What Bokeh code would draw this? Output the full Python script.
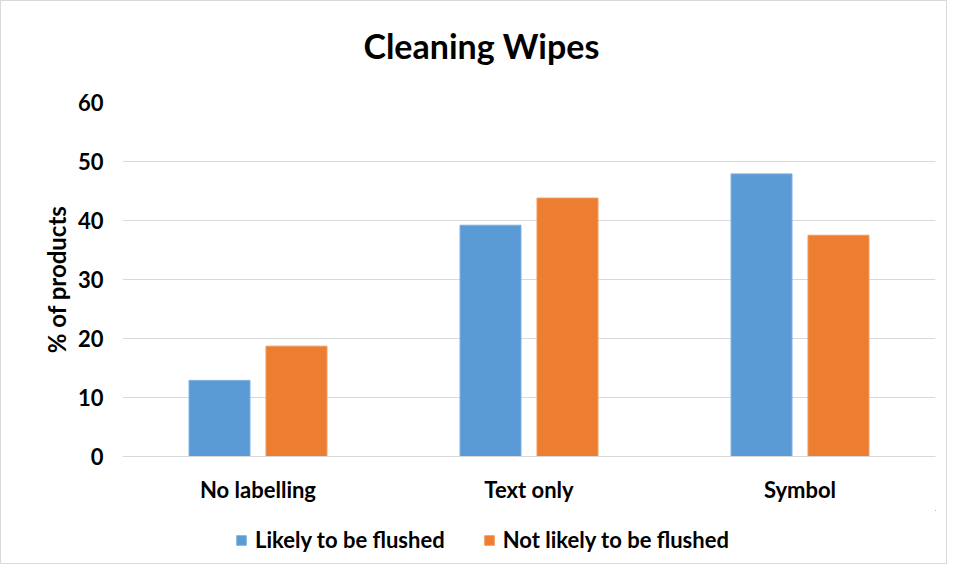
from bokeh.plotting import figure
from bokeh.layouts import column
from bokeh.models import ColumnDataSource, FactorRange, Legend, LegendItem, Range1d, Label
from bokeh.transform import dodge
from bokeh.embed import file_html
from bokeh.resources import INLINE

title_text = "Cleaning Wipes"
categories = ["No labelling", "Text only", "Symbol"]
likely = [12.9, 39.2, 47.9]
not_likely = [18.7, 43.8, 37.5]
series_names = ["Likely to be flushed", "Not likely to be flushed"]
y_ticks = [0, 10, 20, 30, 40, 50, 60]

FONT = "Lato"
BLUE, BLUE_LINE = "#5B9BD5", "#7DB0DE"
ORANGE, ORANGE_LINE = "#ED7D31", "#F19A5E"
src = ColumnDataSource(dict(cat=categories, likely=likely, not_likely=not_likely))


def strip(height):
    f = figure(width=945, height=height, output_backend="svg", toolbar_location=None,
               min_border=0, x_range=Range1d(0, 1), y_range=Range1d(0, 1))
    f.axis.visible = False
    f.grid.visible = False
    f.outline_line_color = None
    return f


# title strip
tt = strip(87)
tt.add_layout(Label(x=359, y=43, x_units="screen", y_units="screen", text=title_text,
                    text_align="center", text_baseline="middle", text_font=FONT,
                    text_font_size="34px", text_font_style="bold", text_color="#000000"))

# main chart
p = figure(x_range=FactorRange(factors=categories), y_range=Range1d(0, 60),
           width=945, height=422, output_backend="svg", toolbar_location=None,
           min_border_left=121, min_border_right=11, min_border_top=14, min_border_bottom=54)
p.outline_line_color = None

r1 = p.vbar(x=dodge("cat", -0.142, range=p.x_range), top="likely", width=0.225,
            source=src, fill_color=BLUE, line_color=BLUE_LINE, line_width=1)
r2 = p.vbar(x=dodge("cat", 0.142, range=p.x_range), top="not_likely", width=0.225,
            source=src, fill_color=ORANGE, line_color=ORANGE_LINE, line_width=1)

p.yaxis.ticker = y_ticks
p.yaxis.axis_line_color = None
p.yaxis.major_tick_line_color = None
p.yaxis.minor_tick_line_color = None
p.yaxis.major_label_text_font = FONT
p.yaxis.major_label_text_font_size = "22px"
p.yaxis.major_label_text_font_style = "bold"
p.yaxis.major_label_text_color = "#000000"
p.yaxis.major_label_standoff = 13
p.yaxis.axis_label = "% of products"
p.yaxis.axis_label_text_font = FONT
p.yaxis.axis_label_text_font_size = "24px"
p.yaxis.axis_label_text_font_style = "bold"
p.yaxis.axis_label_text_color = "#000000"
p.yaxis.axis_label_standoff = 4

p.xaxis.axis_line_color = "#d9d9d9"
p.xaxis.major_tick_line_color = None
p.xaxis.minor_tick_line_color = None
p.xaxis.major_label_text_font = FONT
p.xaxis.major_label_text_font_size = "22px"
p.xaxis.major_label_text_font_style = "bold"
p.xaxis.major_label_text_color = "#000000"
p.xaxis.major_label_standoff = 13

p.xgrid.grid_line_color = None
p.ygrid.grid_line_color = "#d9d9d9"
p.ygrid.grid_line_width = 1

# legend strip below the chart (its series renderers sit outside its visible range)
lg = strip(53)
d1 = lg.vbar(x="likely", top="likely", bottom="likely", width=0, source=src,
             fill_color=BLUE, line_color=BLUE_LINE)
d2 = lg.vbar(x="not_likely", top="not_likely", bottom="not_likely", width=0, source=src,
             fill_color=ORANGE, line_color=ORANGE_LINE)
legend = Legend(items=[LegendItem(label=series_names[0], renderers=[d1]),
                       LegendItem(label=series_names[1], renderers=[d2])],
                orientation="horizontal", location=(113, 10),
                label_text_font=FONT, label_text_font_size="22px", label_text_font_style="bold",
                label_text_color="#000000", glyph_width=12, glyph_height=12,
                label_standoff=8, spacing=38, border_line_color=None,
                background_fill_alpha=0, margin=0, padding=0)
lg.add_layout(legend, "center")

layout = column(tt, p, lg, spacing=0, styles={"border": "1px solid #d9d9d9"})

open("out.html", "w").write(file_html(layout, INLINE))
